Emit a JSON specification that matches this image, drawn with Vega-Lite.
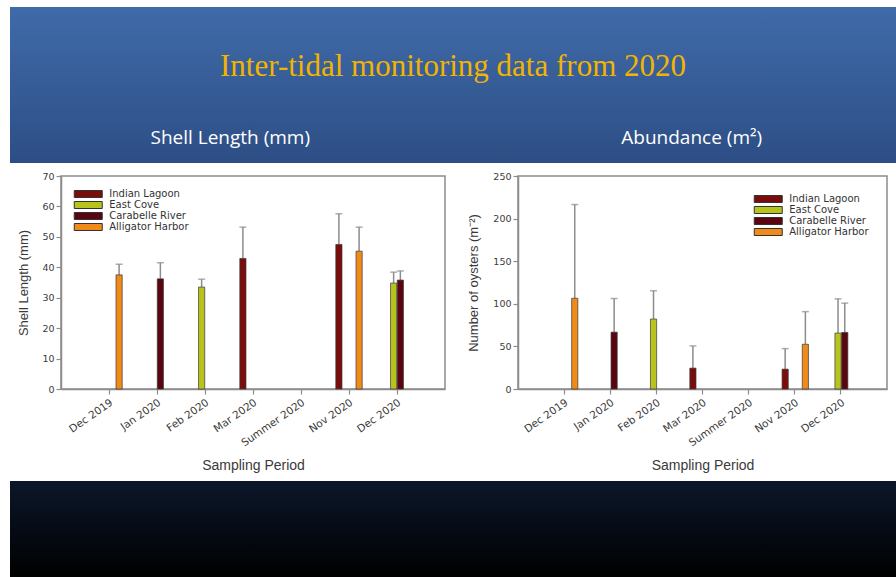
{
  "$schema": "https://vega.github.io/schema/vega-lite/v6.json",
  "background": "white",
  "padding": {"left": 10, "top": 7, "right": 0, "bottom": 0},
  "spacing": 7,
  "datasets": {
    "shell": [
      {"period": "Dec 2019", "site": "Alligator Harbor", "value": 37.5, "upper": 41.0},
      {"period": "Jan 2020", "site": "Carabelle River", "value": 36.2, "upper": 41.5},
      {"period": "Feb 2020", "site": "East Cove", "value": 33.5, "upper": 36.1},
      {"period": "Mar 2020", "site": "Indian Lagoon", "value": 42.9, "upper": 53.2},
      {"period": "Nov 2020", "site": "Indian Lagoon", "value": 47.5, "upper": 57.6},
      {"period": "Nov 2020", "site": "Alligator Harbor", "value": 45.3, "upper": 53.2},
      {"period": "Dec 2020", "site": "East Cove", "value": 34.8, "upper": 38.4},
      {"period": "Dec 2020", "site": "Carabelle River", "value": 35.8, "upper": 38.8}
    ],
    "abundance": [
      {"period": "Dec 2019", "site": "Alligator Harbor", "value": 106.5, "upper": 216.5},
      {"period": "Jan 2020", "site": "Carabelle River", "value": 66.7, "upper": 106.2},
      {"period": "Feb 2020", "site": "East Cove", "value": 82.1, "upper": 115.3},
      {"period": "Mar 2020", "site": "Indian Lagoon", "value": 24.5, "upper": 50.6},
      {"period": "Nov 2020", "site": "Indian Lagoon", "value": 23.3, "upper": 47.4},
      {"period": "Nov 2020", "site": "Alligator Harbor", "value": 52.5, "upper": 90.8},
      {"period": "Dec 2020", "site": "East Cove", "value": 65.6, "upper": 105.8},
      {"period": "Dec 2020", "site": "Carabelle River", "value": 66.4, "upper": 100.8}
    ],
    "header": [
      {"text": "Inter-tidal monitoring data from 2020", "role": "title"},
      {"text": "Shell Length (mm)", "role": "subtitle", "panel": "Shell Length"},
      {"text": "Abundance (m²)", "role": "subtitle", "panel": "Abundance"}
    ]
  },
  "config": {
    "view": {"stroke": "#8c8c8c", "strokeWidth": 1.5},
    "axis": {
      "grid": false,
      "domainColor": "#8c8c8c",
      "domainWidth": 1.5,
      "tickColor": "#8c8c8c",
      "tickWidth": 1.2,
      "tickSize": 5,
      "labelFont": "DejaVu Sans",
      "labelColor": "#3a3a3a",
      "titleFont": "Liberation Sans",
      "titleColor": "#3a3a3a",
      "titleFontWeight": "normal"
    },
    "legend": {
      "title": null,
      "padding": 0,
      "labelFont": "DejaVu Sans",
      "labelFontSize": 10,
      "labelColor": "#333333",
      "symbolType": "M-4,-1H4V1H-4Z",
      "symbolSize": 49,
      "symbolStrokeColor": "#333333",
      "symbolStrokeWidth": 1,
      "symbolOffset": 9.25,
      "labelOffset": 16
    }
  },
  "vconcat": [
    {
      "width": 886,
      "height": 156,
      "view": {
        "stroke": null,
        "fill": {"gradient": "linear", "x1": 0, "y1": 0, "x2": 0, "y2": 1,
          "stops": [{"offset": 0, "color": "#3f6ba9"}, {"offset": 1, "color": "#2d4e85"}]}
      },
      "data": {"name": "header"},
      "encoding": {
        "y": {"field": "role", "type": "nominal", "scale": {"type": "point", "domain": ["title", "subtitle"], "padding": 0.6}, "axis": null},
        "text": {"field": "text"}
      },
      "layer": [
        {
          "transform": [{"filter": "datum.role === 'title'"}],
          "mark": {"type": "text", "font": "Liberation Serif", "fontSize": 31, "color": "#f2b400", "baseline": "middle", "dy": 17.5}
        },
        {
          "transform": [{"filter": "datum.role === 'subtitle'"}],
          "mark": {"type": "text", "font": "Open Sans", "fontSize": 19, "color": "#ffffff", "baseline": "middle", "dy": 17.5, "dx": 8},
          "encoding": {
            "x": {"field": "panel", "type": "nominal", "scale": {"type": "point", "domain": ["Shell Length", "Abundance"], "padding": 0.46}, "axis": null}
          }
        }
      ]
    },
    {
      "spacing": 6,
      "resolve": {"scale": {"color": "independent"}, "legend": {"color": "independent"}},
      "hconcat": [
        {
          "width": 1,
          "height": 213,
          "view": {"stroke": null},
          "data": {"values": []},
          "mark": "point",
          "encoding": {}
        },
        {
          "spacing": 21,
          "resolve": {"scale": {"color": "independent"}, "legend": {"color": "independent"}},
          "hconcat": [
            {
              "width": 384,
              "height": 213,
              "data": {"name": "shell"},
              "encoding": {
                "x": {"field": "period", "type": "nominal",
                  "scale": {"domain": ["Dec 2019", "Jan 2020", "Feb 2020", "Mar 2020", "Summer 2020", "Nov 2020", "Dec 2020"], "paddingInner": 0.45, "paddingOuter": 0.725},
                  "axis": {"title": "Sampling Period", "labelAngle": -35, "labelAlign": "right", "labelBaseline": "top", "labelPadding": 3, "labelFontSize": 10.5, "titlePadding": 10, "titleFontSize": 14}},
                "xOffset": {"field": "site", "type": "nominal", "scale": {"domain": ["Indian Lagoon", "East Cove", "Carabelle River", "Alligator Harbor"], "paddingInner": 0.08}},
                "y": {"field": "value", "type": "quantitative",
                  "scale": {"domain": [0, 70], "nice": false},
                  "axis": {"title": "Shell Length (mm)", "values": [0, 10, 20, 30, 40, 50, 60, 70], "labelFontSize": 9.5, "labelPadding": 2, "titlePadding": 11, "titleFontSize": 13}}
              },
              "layer": [
                {
                  "mark": {"type": "rule", "color": "#8c8c8c", "strokeWidth": 1.5},
                  "encoding": {"y2": {"field": "upper"}}
                },
                {
                  "mark": {"type": "tick", "color": "#8c8c8c", "thickness": 1.5, "size": 7},
                  "encoding": {"y": {"field": "upper", "type": "quantitative",
                    "axis": {"title": "Shell Length (mm)", "values": [0, 10, 20, 30, 40, 50, 60, 70], "labelFontSize": 9.5, "labelPadding": 2, "titlePadding": 11, "titleFontSize": 13}}}
                },
                {
                  "mark": {"type": "bar", "stroke": "#3a3a3a", "strokeWidth": 0.7},
                  "encoding": {
                    "color": {"field": "site", "type": "nominal",
                      "scale": {"domain": ["Indian Lagoon", "East Cove", "Carabelle River", "Alligator Harbor"], "range": ["#7b0c0c", "#b8c41c", "#5a0510", "#f08a1a"]},
                      "legend": {"orient": "top-left", "offset": 13, "rowPadding": -3}}
                  }
                }
              ]
            },
            {
              "width": 369,
              "height": 213,
              "data": {"name": "abundance"},
              "encoding": {
                "x": {"field": "period", "type": "nominal",
                  "scale": {"domain": ["Dec 2019", "Jan 2020", "Feb 2020", "Mar 2020", "Summer 2020", "Nov 2020", "Dec 2020"], "paddingInner": 0.45, "paddingOuter": 0.725},
                  "axis": {"title": "Sampling Period", "labelAngle": -35, "labelAlign": "right", "labelBaseline": "top", "labelPadding": 3, "labelFontSize": 10.5, "titlePadding": 10, "titleFontSize": 14}},
                "xOffset": {"field": "site", "type": "nominal", "scale": {"domain": ["Indian Lagoon", "East Cove", "Carabelle River", "Alligator Harbor"], "paddingInner": 0.08}},
                "y": {"field": "value", "type": "quantitative",
                  "scale": {"domain": [0, 250], "nice": false},
                  "axis": {"title": "Number of oysters (m⁻²)", "values": [0, 50, 100, 150, 200, 250], "labelFontSize": 9.5, "labelPadding": 2, "titlePadding": 12, "titleFontSize": 13}}
              },
              "layer": [
                {
                  "mark": {"type": "rule", "color": "#8c8c8c", "strokeWidth": 1.5},
                  "encoding": {"y2": {"field": "upper"}}
                },
                {
                  "mark": {"type": "tick", "color": "#8c8c8c", "thickness": 1.5, "size": 7},
                  "encoding": {"y": {"field": "upper", "type": "quantitative",
                    "axis": {"title": "Number of oysters (m⁻²)", "values": [0, 50, 100, 150, 200, 250], "labelFontSize": 9.5, "labelPadding": 2, "titlePadding": 12, "titleFontSize": 13}}}
                },
                {
                  "mark": {"type": "bar", "stroke": "#3a3a3a", "strokeWidth": 0.7},
                  "encoding": {
                    "color": {"field": "site", "type": "nominal",
                      "scale": {"domain": ["Indian Lagoon", "East Cove", "Carabelle River", "Alligator Harbor"], "range": ["#7b0c0c", "#b8c41c", "#5a0510", "#f08a1a"]},
                      "legend": {"orient": "top-right", "offset": 18, "rowPadding": -3}}
                  }
                }
              ]
            }
          ]
        }
      ]
    },
    {
      "width": 886,
      "height": 97,
      "view": {
        "stroke": null,
        "fill": {"gradient": "linear", "x1": 0, "y1": 0, "x2": 0, "y2": 1,
          "stops": [{"offset": 0, "color": "#0b1729"}, {"offset": 1, "color": "#000000"}]}
      },
      "data": {"values": []},
      "mark": "point",
      "encoding": {}
    }
  ]
}
